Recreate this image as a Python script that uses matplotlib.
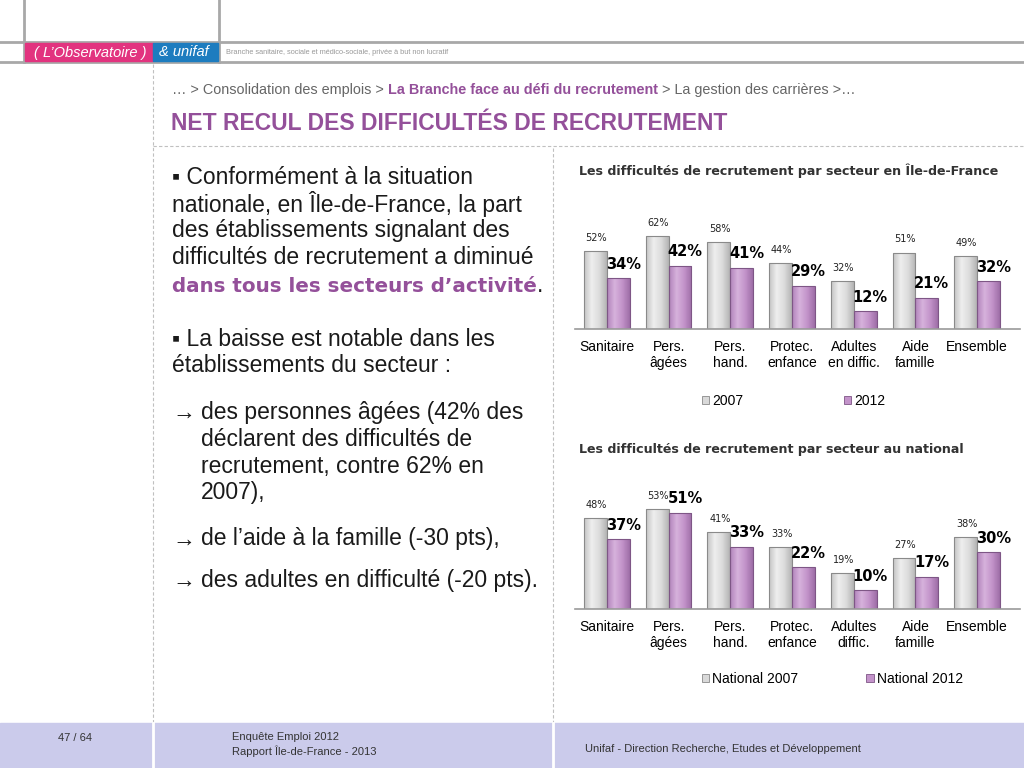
import numpy as np
import matplotlib
matplotlib.use('Agg')
import matplotlib.pyplot as plt
from matplotlib.colors import LinearSegmentedColormap
from matplotlib.patches import Rectangle

# data
secteurs_idf = ['Sanitaire', 'Pers.\nâgées', 'Pers.\nhand.', 'Protec.\nenfance',
                'Adultes\nen diffic.', 'Aide\nfamille', 'Ensemble']
idf_2007 = [52, 62, 58, 44, 32, 51, 49]
idf_2012 = [34, 42, 41, 29, 12, 21, 32]

secteurs_nat = ['Sanitaire', 'Pers.\nâgées', 'Pers.\nhand.', 'Protec.\nenfance',
                'Adultes\ndiffic.', 'Aide\nfamille', 'Ensemble']
nat_2007 = [48, 53, 41, 33, 19, 27, 38]
nat_2012 = [37, 51, 33, 22, 10, 17, 30]

PURPLE = '#94509A'
GRAY_TXT = '#666666'
LIB = ['Liberation Sans', 'DejaVu Sans']
W, H = 1024, 768

fig = plt.figure(figsize=(10.24, 7.68), dpi=100)
fig.patch.set_facecolor('white')

# background axes in pixel coordinates for the slide decoration
bg = fig.add_axes([0, 0, 1, 1])
bg.set_xlim(0, W)
bg.set_ylim(H, 0)
bg.axis('off')

# header
bg.plot([0, W], [42, 42], color='#a8a8a8', lw=2)
bg.plot([0, W], [62, 62], color='#a8a8a8', lw=2)
bg.plot([24, 24], [0, 62], color='#a8a8a8', lw=2)
bg.plot([219, 219], [0, 62], color='#a8a8a8', lw=2)
bg.add_patch(Rectangle((25, 43), 128, 18, color='#E2337F', zorder=3))
bg.add_patch(Rectangle((153, 43), 65, 18, color='#1D7CBF', zorder=3))
bg.text(90, 52.5, '( L\u2019Observatoire )', color='white', fontsize=10.5, style='italic',
        family=LIB, ha='center', va='center', zorder=4)
bg.text(184, 52.5, '& unifaf', color='white', fontsize=10.5, style='italic',
        family=LIB, ha='center', va='center', zorder=4)
bg.text(226, 52.5, 'Branche sanitaire, sociale et médico-sociale, privée à but non lucratif',
        color='#999999', fontsize=5.3, va='center', family=LIB)

# dashed frame lines
bg.plot([153, 153], [64, 722], color='#c0c0c0', lw=0.8, ls=(0, (3, 2)))
bg.plot([553, 553], [148, 722], color='#c0c0c0', lw=0.8, ls=(0, (3, 2)))
bg.plot([153, W], [146, 146], color='#c0c0c0', lw=0.8, ls=(0, (3, 2)))

# breadcrumb
t1 = bg.text(172, 90, '\u2026 > Consolidation des emplois > ', color=GRAY_TXT,
             fontsize=10.4, va='center', family=LIB)
t2 = bg.annotate('La Branche face au défi du recrutement', xy=(1, 0.5), xycoords=t1,
                 color=PURPLE, fontsize=10.4, weight='bold', va='center', family=LIB)
bg.annotate(' > La gestion des carrières >\u2026', xy=(1, 0.5), xycoords=t2,
            color=GRAY_TXT, fontsize=10.4, va='center', family=LIB)

# slide title
bg.text(171, 123, 'NET RECUL DES DIFFICULTÉS DE RECRUTEMENT', color=PURPLE,
        fontsize=16.5, weight='bold', va='center', family=LIB)

# left text
body = dict(fontsize=16.5, va='center', color='#1a1a1a', family=LIB)
bg.text(172, 177, '\u25aa Conformément à la situation', **body)
bg.text(172, 204, 'nationale, en Île-de-France, la part', **body)
bg.text(172, 231, 'des établissements signalant des', **body)
bg.text(172, 258, 'difficultés de recrutement a diminué', **body)
tb = bg.text(172, 286, 'dans tous les secteurs d\u2019activité', weight='bold',
             fontsize=14.3, va='center', color=PURPLE, family='DejaVu Sans')
bg.annotate('.', xy=(1, 0.5), xycoords=tb, **body)
bg.text(172, 339, '\u25aa La baisse est notable dans les', **body)
bg.text(172, 366, 'établissements du secteur :', **body)
bg.text(172, 412, '\u2192', **body)
bg.text(201, 412, 'des personnes âgées (42% des', **body)
bg.text(201, 439, 'déclarent des difficultés de', **body)
bg.text(201, 466, 'recrutement, contre 62% en', **body)
bg.text(201, 493, '2007),', **body)
bg.text(172, 539, '\u2192', **body)
bg.text(201, 539, 'de l\u2019aide à la famille (-30 pts),', **body)
bg.text(172, 580, '\u2192', **body)
bg.text(201, 580, 'des adultes en difficulté (-20 pts).', **body)

# footer
bg.add_patch(Rectangle((0, 723), W, 45, color='#CBCBEB', zorder=1))
bg.plot([153, 153], [723, H], color='white', lw=2, zorder=2)
bg.plot([553, 553], [723, H], color='white', lw=2, zorder=2)
foot = dict(fontsize=8, color='#333333', va='center', family=LIB, zorder=3)
bg.text(75, 738, '47 / 64', ha='center', **foot)
bg.text(232, 737, 'Enquête Emploi 2012', **foot)
bg.text(232, 751, 'Rapport Île-de-France - 2013', **foot)
bg.text(585, 749, 'Unifaf - Direction Recherche, Etudes et Développement', **foot)

gray_cm = LinearSegmentedColormap.from_list('g', ['#c4c4c4', '#eeeeee', '#dcdcdc', '#b4b4b4'])
purp_cm = LinearSegmentedColormap.from_list('p', ['#b283bb', '#d6b2dc', '#c393ca', '#9e6ea7'])


def shade(ax, bars, cmap):
    grad = np.linspace(0, 1, 64).reshape(1, -1)
    for b in bars:
        x, y, w, h = b.get_x(), b.get_y(), b.get_width(), b.get_height()
        im = ax.imshow(grad, cmap=cmap, extent=[x, x + w, y, y + h],
                       aspect='auto', zorder=2)
        im.set_clip_path(b)


def chart(base_px, px_per_pct, cats, v1, v2, title, title_y, names, leg_y, colsp):
    left, right, top = 576, 1008, base_px - 135
    ax = fig.add_axes([left / W, 1 - base_px / H, (right - left) / W, (base_px - top) / H])
    x = np.arange(len(cats))
    bw = 0.37
    b1 = ax.bar(x - bw / 2, v1, bw, facecolor='none', edgecolor='#8a8a8a', lw=0.8,
                zorder=3, label=names[0])
    b2 = ax.bar(x + bw / 2, v2, bw, facecolor='none', edgecolor='#7e5686', lw=0.8,
                zorder=3, label=names[1])
    shade(ax, b1, gray_cm)
    shade(ax, b2, purp_cm)
    ax.set_xlim(-0.5, len(cats) - 0.5)
    ax.set_ylim(0, (base_px - top) / px_per_pct)
    for s in ['top', 'right', 'left', 'bottom']:
        ax.spines[s].set_visible(False)
    ax.axhline(0, xmin=-0.003, xmax=1.028, color='#9a9a9a', lw=1.2, clip_on=False, zorder=4)
    ax.set_yticks([])
    ax.set_xticks(x)
    ax.set_xticklabels(cats, fontsize=10, family=LIB, linespacing=1.2)
    ax.tick_params(axis='x', length=0, pad=8)
    for b, v in zip(b1, v1):
        ax.annotate(f'{v}%', (b.get_x() + b.get_width() / 2, v), xytext=(1, 13),
                    textcoords='offset pixels', ha='center', va='center',
                    fontsize=7, color='#222222')
    for b, v in zip(b2, v2):
        ax.annotate(f'{v}%', (b.get_x() + b.get_width() / 2, v), xytext=(5, 14),
                    textcoords='offset pixels', ha='center', va='center',
                    fontsize=10.5, weight='bold', color='black')
    bg.text(579, title_y, title, fontsize=9.1, weight='bold', color='#333333', va='center')
    h1 = Rectangle((0, 0), 1, 1, facecolor='#d9d9d9', edgecolor='#8a8a8a', lw=0.6)
    h2 = Rectangle((0, 0), 1, 1, facecolor='#c393ca', edgecolor='#7e5686', lw=0.6)
    ax.legend([h1, h2], names, loc='center left',
              bbox_to_anchor=(689 / W, 1 - leg_y / H), bbox_transform=fig.transFigure,
              ncol=2, frameon=False, handlelength=0.55, handleheight=0.55,
              handletextpad=0.2, columnspacing=colsp,
              prop={'family': LIB, 'size': 10})
    return ax


chart(329, 1.5, secteurs_idf, idf_2007, idf_2012,
      'Les difficultés de recrutement par secteur en Île-de-France', 171,
      ['2007', '2012'], 401, 7.25)
chart(609, 1.89, secteurs_nat, nat_2007, nat_2012,
      'Les difficultés de recrutement par secteur au national', 450,
      ['National 2007', 'National 2012'], 679, 4.9)

fig.savefig('out.png', dpi=100)
